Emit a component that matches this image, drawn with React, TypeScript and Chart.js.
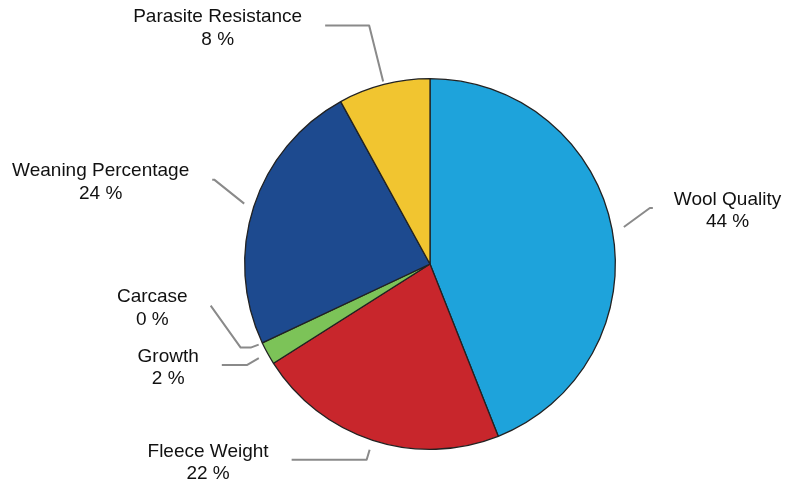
import React, { useEffect, useRef } from "react";
import { Chart, registerables } from "chart.js";

Chart.register(...registerables);

// ---- data ----
const categories = ["Wool Quality", "Fleece Weight", "Growth", "Carcase", "Weaning Percentage", "Parasite Resistance"];
const values = [44, 22, 2, 0, 24, 8];
const valueLabels = ["44 %", "22 %", "2 %", "0 %", "24 %", "8 %"];
const colors = ["#1ea3db", "#c8262c", "#7cc358", "#7cc358", "#1d4a8f", "#f1c530"];

// leader-line layout (label styling), relative to the slice's mid-angle anchor
type Leader = { gap: number; pts: [number, number][]; side: "left" | "right" };
const leaders: Leader[] = [
  { gap: 12, pts: [[26, -19], [3, 0]], side: "right" },
  { gap: 10, pts: [[-3, 10], [-75, 0]], side: "left" },
  { gap: 10, pts: [[-12, 7], [-25, 0]], side: "left" },
  { gap: 4, pts: [[-8, 3], [-10, 0], [-30, -42]], side: "left" },
  { gap: 10, pts: [[-30, -24], [-2, 0]], side: "left" },
  { gap: 3, pts: [[-14, -56], [-44, 0]], side: "left" },
];

const leaderPlugin = {
  id: "leaderLabels",
  afterDraw(chart: any) {
    const ctx = chart.ctx;
    const meta = chart.getDatasetMeta(0);
    meta.data.forEach((arc: any, i: number) => {
      const p = arc.getProps(["x", "y", "startAngle", "endAngle", "outerRadius"], true);
      const mid = (p.startAngle + p.endAngle) / 2;
      const L = leaders[i];
      let x = p.x + Math.cos(mid) * (p.outerRadius + L.gap);
      let y = p.y + Math.sin(mid) * (p.outerRadius + L.gap);
      ctx.save();
      ctx.strokeStyle = "#8a8a8a";
      ctx.lineWidth = 2;
      ctx.lineJoin = "round";
      ctx.beginPath();
      ctx.moveTo(x, y);
      L.pts.forEach(([dx, dy]) => {
        x += dx;
        y += dy;
        ctx.lineTo(x, y);
      });
      ctx.stroke();
      ctx.fillStyle = "#111111";
      ctx.font = "19px 'Liberation Sans', Arial, sans-serif";
      ctx.textBaseline = "middle";
      const lines = [categories[i], valueLabels[i]];
      const w = Math.max(...lines.map((t) => ctx.measureText(t).width));
      const cx = L.side === "right" ? x + 21 + w / 2 : x - 23 - w / 2;
      ctx.textAlign = "center";
      ctx.fillText(lines[0], cx, y - 8.5);
      ctx.fillText(lines[1], cx, y + 14);
      ctx.restore();
    });
  },
};

export default function App() {
  const ref = useRef<HTMLCanvasElement>(null);
  useEffect(() => {
    if (!ref.current) return;
    const chart = new Chart(ref.current, {
      type: "pie",
      data: {
        labels: categories,
        datasets: [
          {
            data: values,
            backgroundColor: colors,
            borderColor: "#222222",
            borderWidth: 1.3,
          },
        ],
      },
      options: {
        animation: false,
        responsive: false,
        maintainAspectRatio: false,
        layout: { padding: { top: 78, bottom: 39, left: 244, right: 173 } },
        plugins: { legend: { display: false }, tooltip: { enabled: false } },
      },
      plugins: [leaderPlugin],
    });
    return () => chart.destroy();
  }, []);
  return (
    <div style={{ position: "fixed", left: 0, top: 0, width: 789, height: 489, background: "#fff" }}>
      <canvas ref={ref} width={789} height={489} style={{ width: 789, height: 489 }} />
    </div>
  );
}
